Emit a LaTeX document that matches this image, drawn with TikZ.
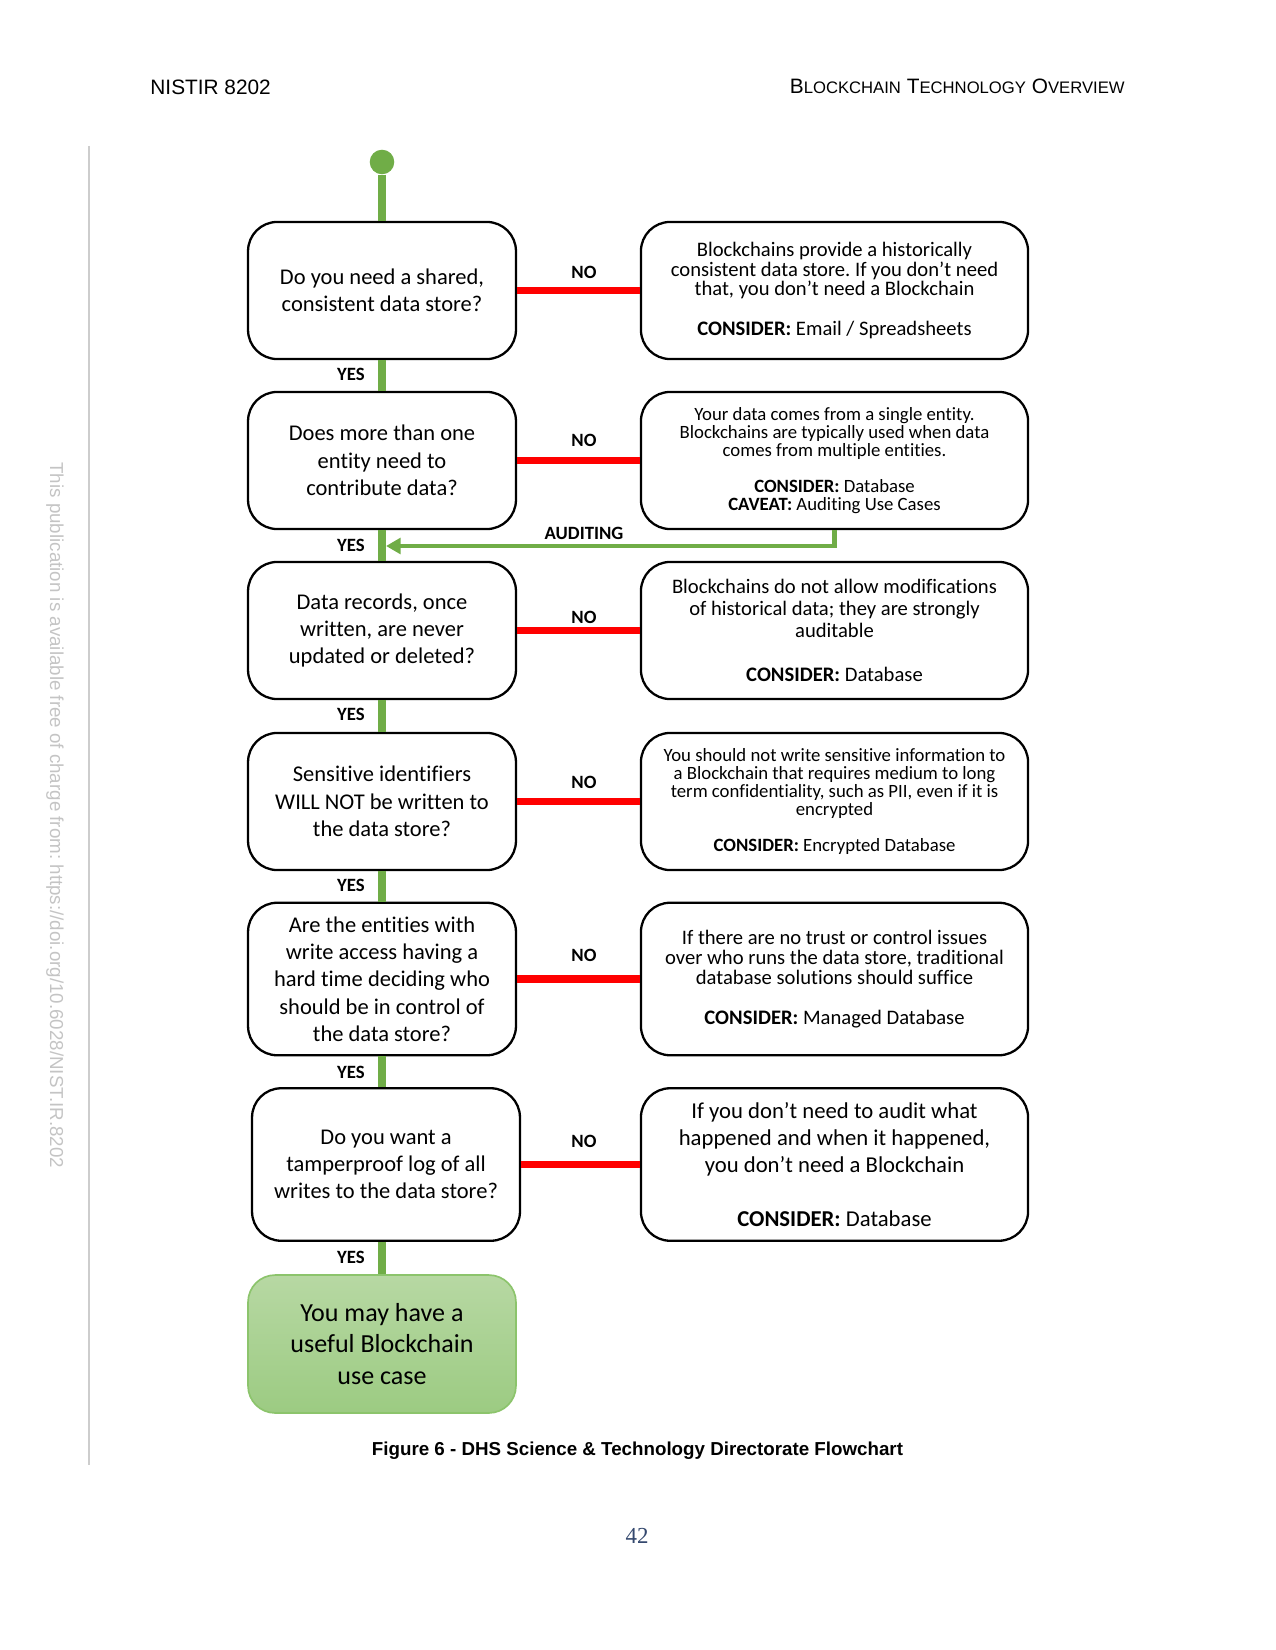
\documentclass[tikz,border=0pt]{standalone}
\usepackage{fontspec}
\setmainfont{Liberation Sans}
\newfontfamily\calfont[Ligatures=NoCommon]{Carlito}
\newfontfamily\pgserif{Liberation Serif}
\usetikzlibrary{arrows.meta,calc}
\definecolor{flowgreen}{RGB}{112,173,71}
\definecolor{flowred}{RGB}{255,0,0}
\definecolor{gtop}{RGB}{183,216,163}
\definecolor{gbot}{RGB}{156,203,130}
\definecolor{gedge}{RGB}{140,196,108}
\definecolor{sidegray}{RGB}{196,196,196}
\definecolor{linegray}{RGB}{205,205,205}
\definecolor{pagenum}{RGB}{52,72,110}
\frenchspacing
\tikzset{
  qbox/.style={draw=black, line width=1.1pt, rounded corners=14pt, fill=white,
    minimum width=128.6pt, minimum height=65.8pt, inner sep=0pt, align=center,
    font=\calfont\fontsize{10.8}{13.1}\selectfont},
  abox/.style={draw=black, line width=1.1pt, rounded corners=14pt, fill=white,
    minimum width=185.8pt, minimum height=65.8pt, inner sep=0pt, align=center},
  tallbox/.style={minimum height=73.2pt},
  endbox/.style={draw=gedge, line width=0.8pt, rounded corners=13pt,
    top color=gtop, bottom color=gbot,
    minimum width=128.6pt, minimum height=66.2pt, inner sep=0pt, align=center,
    font=\calfont\fontsize{12.5}{15.2}\selectfont},
  yesline/.style={draw=flowgreen, line width=3.8pt},
  noline/.style={draw=flowred, line width=3.8pt},
  auditline/.style={draw=flowgreen, line width=2.2pt, -{Triangle[length=7pt,width=7.5pt]}},
  lbl/.style={font=\calfont\bfseries\fontsize{9}{11}\selectfont, inner sep=0pt},
}
\begin{document}
\begin{tikzpicture}[x=0.48pt,y=-0.48pt]
\useasboundingbox (0,0) rectangle (1275,1650);

% page furniture
\node[anchor=base west, font=\fontsize{10}{12}\selectfont, inner sep=0pt] (hdrl) at (150,95) {NISTIR 8202};
\node[anchor=base east, font=\fontsize{10}{12}\selectfont, inner sep=0pt] (hdrr) at (1125,94)
  {B{\fontsize{8}{10}\selectfont LOCKCHAIN} T{\fontsize{8}{10}\selectfont ECHNOLOGY} O{\fontsize{8}{10}\selectfont VERVIEW}};
\draw[linegray, line width=0.7pt] (89,146) -- (89,1465);
\node[rotate=-90, anchor=west, text=sidegray, font=\fontsize{9}{11}\selectfont, inner sep=0pt] (side) at (55,462)
  {This publication is available free of charge from: https://doi.org/10.6028/NIST.IR.8202};
\node[anchor=base, font=\bfseries\fontsize{9}{11}\selectfont, inner sep=0pt] (cap) at (637.5,1455)
  {Figure 6 - DHS Science \& Technology Directorate Flowchart};
\node[anchor=base, font=\pgserif\fontsize{11}{13}\selectfont, text=pagenum, inner sep=0pt] (pg) at (637,1543) {42};

% start dot
\node[circle, fill=flowgreen, minimum size=11.8pt, inner sep=0pt] (start) at (382,162) {};

% questions
\node[qbox] (q1) at (382,290.5) {Do you need a shared,\\consistent data store?};
\node[qbox] (q2) at (382,460.5) {Does more than one\\entity need to\\contribute data?};
\node[qbox] (q3) at (382,630.5) {Data records, once\\written, are never\\updated or deleted?};
\node[qbox] (q4) at (382,801.5) {Sensitive identifiers\\WILL NOT be written to\\the data store?};
\node[qbox, tallbox] (q5) at (382,979) {Are the entities with\\write access having a\\hard time deciding who\\should be in control of\\the data store?};
\node[qbox, tallbox] (q6) at (386,1164.5) {Do you want a\\tamperproof log of all\\writes to the data store?};
\node[endbox] (yes) at (382,1344) {You may have a\\useful Blockchain\\use case};

% answers
\node[abox, font=\calfont\fontsize{9.9}{9.5}\selectfont] (a1) at (834.5,290.5)
  {Blockchains provide a historically\\consistent data store. If you don’t need\\that, you don’t need a Blockchain\\[9.5pt]\textbf{CONSIDER:} Email / Spreadsheets};
\node[abox, font=\calfont\fontsize{9}{8.7}\selectfont] (a2) at (834.5,460.5)
  {Your data comes from a single entity.\\Blockchains are typically used when data\\comes from multiple entities.\\[8.7pt]\textbf{CONSIDER:} Database\\\textbf{CAVEAT:} Auditing Use Cases};
\node[abox, font=\calfont\fontsize{9.9}{10.6}\selectfont] (a3) at (834.5,630.5)
  {Blockchains do not allow modifications\\of historical data; they are strongly\\auditable\\[10.6pt]\textbf{CONSIDER:} Database};
\node[abox, font=\calfont\fontsize{9}{8.6}\selectfont] (a4) at (834.5,801.5)
  {You should not write sensitive information to\\a Blockchain that requires medium to long\\term confidentiality, such as PII, even if it is\\encrypted\\[8.6pt]\textbf{CONSIDER:} Encrypted Database};
\node[abox, tallbox, font=\calfont\fontsize{9.9}{9.6}\selectfont] (a5) at (834.5,979)
  {If there are no trust or control issues\\over who runs the data store, traditional\\database solutions should suffice\\[9.6pt]\textbf{CONSIDER:} Managed Database};
\node[abox, tallbox, font=\calfont\fontsize{10.9}{12.9}\selectfont] (a6) at (834.5,1164.5)
  {If you don’t need to audit what\\happened and when it happened,\\you don’t need a Blockchain\\[12.9pt]\textbf{CONSIDER:} Database};

% yes trunk
\draw[yesline] (start) -- (q1.north);
\draw[yesline] (q1.south) -- (q2.north);
\draw[yesline] (q2.south) -- (q3.north);
\draw[yesline] (q3.south) -- (q4.north);
\draw[yesline] (q4.south) -- (q5.north);
\draw[yesline] (q5.south) -- (q5.south |- q6.north);
\draw[yesline] (q6.south -| q5.south) -- (yes.north);

% no lines
\draw[noline] (q1.east) -- (a1.west);
\draw[noline] (q2.east) -- (a2.west);
\draw[noline] (q3.east) -- (a3.west);
\draw[noline] (q4.east) -- (a4.west);
\draw[noline] (q5.east) -- (a5.west);
\draw[noline] (q6.east) -- (a6.west);

% auditing loop
\coordinate (auditend) at (386,546);
\draw[auditline] (a2.south) |- (auditend);
\node[lbl] (laud) at (584,533) {AUDITING};

% labels
\node[lbl] (y1) at (351,374) {YES};
\node[lbl] (y2) at (351,545) {YES};
\node[lbl] (y3) at (351,714) {YES};
\node[lbl] (y4) at (351,885) {YES};
\node[lbl] (y5) at (351,1072) {YES};
\node[lbl] (y6) at (351,1257) {YES};
\node[lbl] (n1) at (584,272) {NO};
\node[lbl] (n2) at (584,440) {NO};
\node[lbl] (n3) at (584,617) {NO};
\node[lbl] (n4) at (584,782) {NO};
\node[lbl] (n5) at (584,955) {NO};
\node[lbl] (n6) at (584,1141) {NO};
\end{tikzpicture}
\end{document}
